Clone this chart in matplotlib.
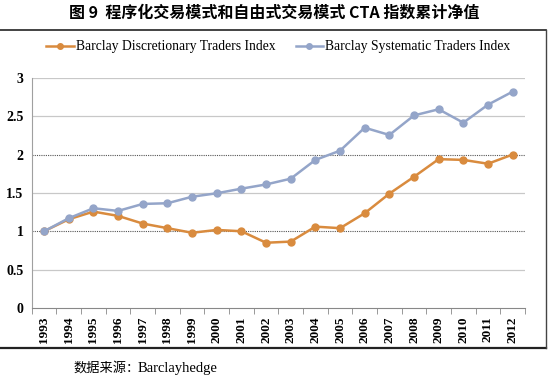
import numpy as np
import matplotlib.pyplot as plt
from matplotlib.lines import Line2D

years = [str(y) for y in range(1993, 2013)]
discretionary = [1.0, 1.156, 1.256, 1.20, 1.10, 1.04, 0.98, 1.017, 1.0, 0.85,
                 0.865, 1.06, 1.04, 1.235, 1.49, 1.71, 1.94, 1.93, 1.88, 2.0]
systematic = [1.0, 1.17, 1.30, 1.265, 1.356, 1.365, 1.45, 1.495, 1.555, 1.61,
              1.685, 1.93, 2.05, 2.35, 2.255, 2.51, 2.59, 2.415, 2.65, 2.82]
yticks = [0, 0.5, 1, 1.5, 2, 2.5, 3]

serif = ['Liberation Serif', 'DejaVu Serif']
cjk = ['Noto Sans CJK SC', 'DejaVu Sans']

fig = plt.figure(figsize=(5.48, 3.76), dpi=100)
ax = fig.add_axes([0.058, 0.181, 0.9, 0.612])

x = np.arange(len(years))
orange = '#D98B3E'
blue = '#94A5C9'
ax.plot(x, discretionary, color=orange, lw=1.8, marker='o', ms=5,
        label='Barclay Discretionary Traders Index')
ax.plot(x, systematic, color=blue, lw=1.8, marker='o', ms=5,
        label='Barclay Systematic Traders Index')

ax.set_xlim(-0.5, len(years) - 0.5)
ax.set_ylim(0, 3)
ax.set_yticks(yticks)
ax.set_yticklabels(['0', '0.5', '1', '1.5', '2', '2.5', '3'],
                   family=serif, fontweight='bold', fontsize=10)
ax.set_xticks(x)
ax.set_xticklabels(years, rotation=90, family=serif, fontweight='bold', fontsize=9.5)
ax.set_xticks(np.arange(-0.5, len(years)), minor=True)
ax.tick_params(axis='x', which='major', length=0, pad=6)
ax.tick_params(axis='x', which='minor', length=4, color='#888888')
ax.tick_params(axis='y', length=0, pad=6)

for v in yticks[1:]:
    if v in (1, 2):
        ax.axhline(v, color='#555555', lw=0.8, ls=(0, (1, 1)), zorder=0)
    else:
        ax.axhline(v, color='#C8C8C8', lw=0.9, zorder=0)

for s in ['top', 'right']:
    ax.spines[s].set_visible(False)
ax.spines['left'].set_color('#A0A0A0')
ax.spines['bottom'].set_color('#888888')

ax.legend(loc='center', bbox_to_anchor=(0.5, 1.134), ncol=2, frameon=False,
          prop={'family': serif, 'size': 9.8}, handlelength=2.0, handletextpad=0.15,
          columnspacing=1.5, borderaxespad=0, markerscale=0.8)

# outer frame
fig.add_artist(Line2D([0, 0.997], [0.92, 0.92], color='#222222', lw=1.2, transform=fig.transFigure))
fig.add_artist(Line2D([0, 0.997], [0.075, 0.075], color='#222222', lw=1.6, transform=fig.transFigure))
fig.add_artist(Line2D([0.997, 0.997], [0.075, 0.92], color='#444444', lw=1.0, transform=fig.transFigure))

fig.text(0.5, 0.965, '图 9  程序化交易模式和自由式交易模式 CTA 指数累计净值',
         ha='center', va='center', family=cjk, fontweight='bold', fontsize=11.5)
fig.text(0.135, 0.02, '数据来源：', ha='left', va='center', family=cjk, fontsize=9.5)
fig.text(0.252, 0.02, 'Barclayhedge', ha='left', va='center', family=serif, fontsize=10.5)

fig.savefig('out.png', dpi=100)
